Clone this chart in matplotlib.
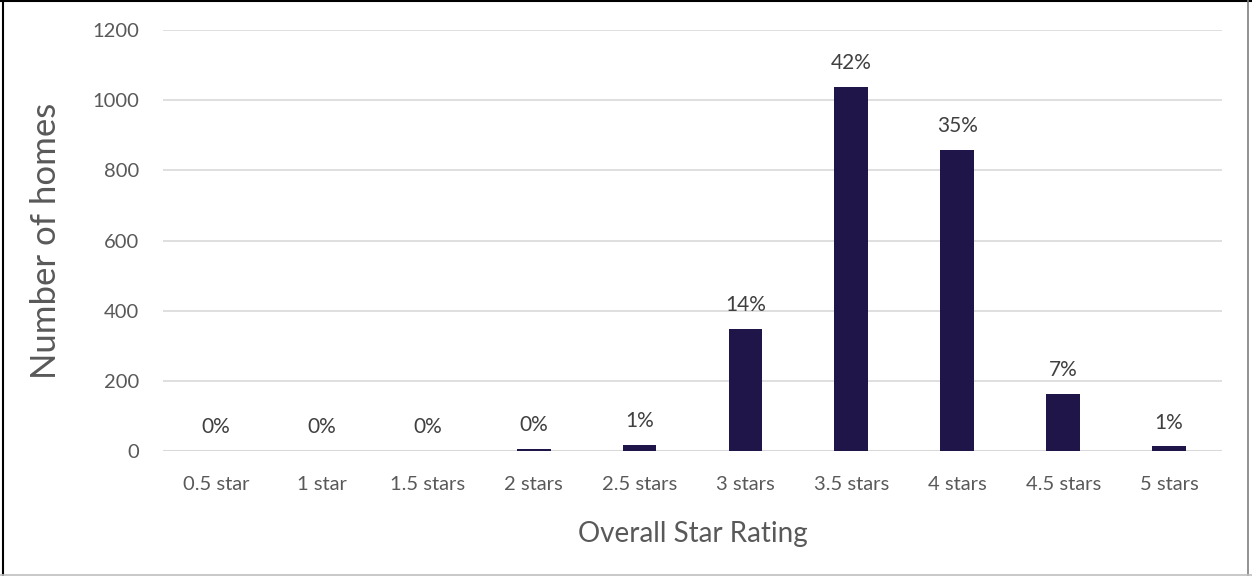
import matplotlib.pyplot as plt
from matplotlib.lines import Line2D

# star rating distribution
ratings = ['0.5 star', '1 star', '1.5 stars', '2 stars', '2.5 stars',
           '3 stars', '3.5 stars', '4 stars', '4.5 stars', '5 stars']
homes = [0, 0, 0, 5, 17, 348, 1037, 857, 163, 13]
pct_labels = ['0%', '0%', '0%', '0%', '1%', '14%', '42%', '35%', '7%', '1%']

plt.rcParams['font.family'] = ['Lato', 'DejaVu Sans']

fig = plt.figure(figsize=(12.52, 5.76), dpi=100)
ax = fig.add_axes([163/1252, 1 - 451/576, (1222-163)/1252, (451-30)/576])

x = range(len(ratings))
bars = ax.bar(x, homes, width=0.32, color='#1f1548', zorder=3)
for b, lab in zip(bars, pct_labels):
    ax.annotate(lab, (b.get_x() + b.get_width()/2, b.get_height()),
                xytext=(0, 10), textcoords='offset points',
                ha='center', va='bottom', fontsize=15, color='#404040')

ax.set_xlim(-0.5, len(ratings) - 0.5)
ax.set_ylim(0, 1200)
ax.set_yticks(range(0, 1201, 200))
ax.set_xticks(list(x))
ax.set_xticklabels(ratings)
ax.tick_params(axis='both', length=0, labelsize=14.5, labelcolor='#595959')
ax.tick_params(axis='x', pad=18)
ax.tick_params(axis='y', pad=17)
ax.yaxis.grid(True, color='#d9d9d9', linewidth=1.2, zorder=0)
for s in ax.spines.values():
    s.set_visible(False)
ax.axhline(0, color='#d9d9d9', linewidth=1.5, zorder=2)

ax.set_xlabel('Overall Star Rating', fontsize=20, color='#595959', labelpad=20)
ax.set_ylabel('Number of homes', fontsize=25, color='#595959', labelpad=22)

# outer frame
fig.add_artist(Line2D([3/1252, 3/1252], [0, 1], color='black', lw=1.5))
fig.add_artist(Line2D([0, 1], [1 - 1/576, 1 - 1/576], color='black', lw=1.5))
fig.add_artist(Line2D([1248/1252, 1248/1252], [0, 1], color='#7f7f7f', lw=1.2))
fig.add_artist(Line2D([0, 1], [1/576, 1/576], color='#bfbfbf', lw=1.2))

fig.savefig('out.png', dpi=100)
